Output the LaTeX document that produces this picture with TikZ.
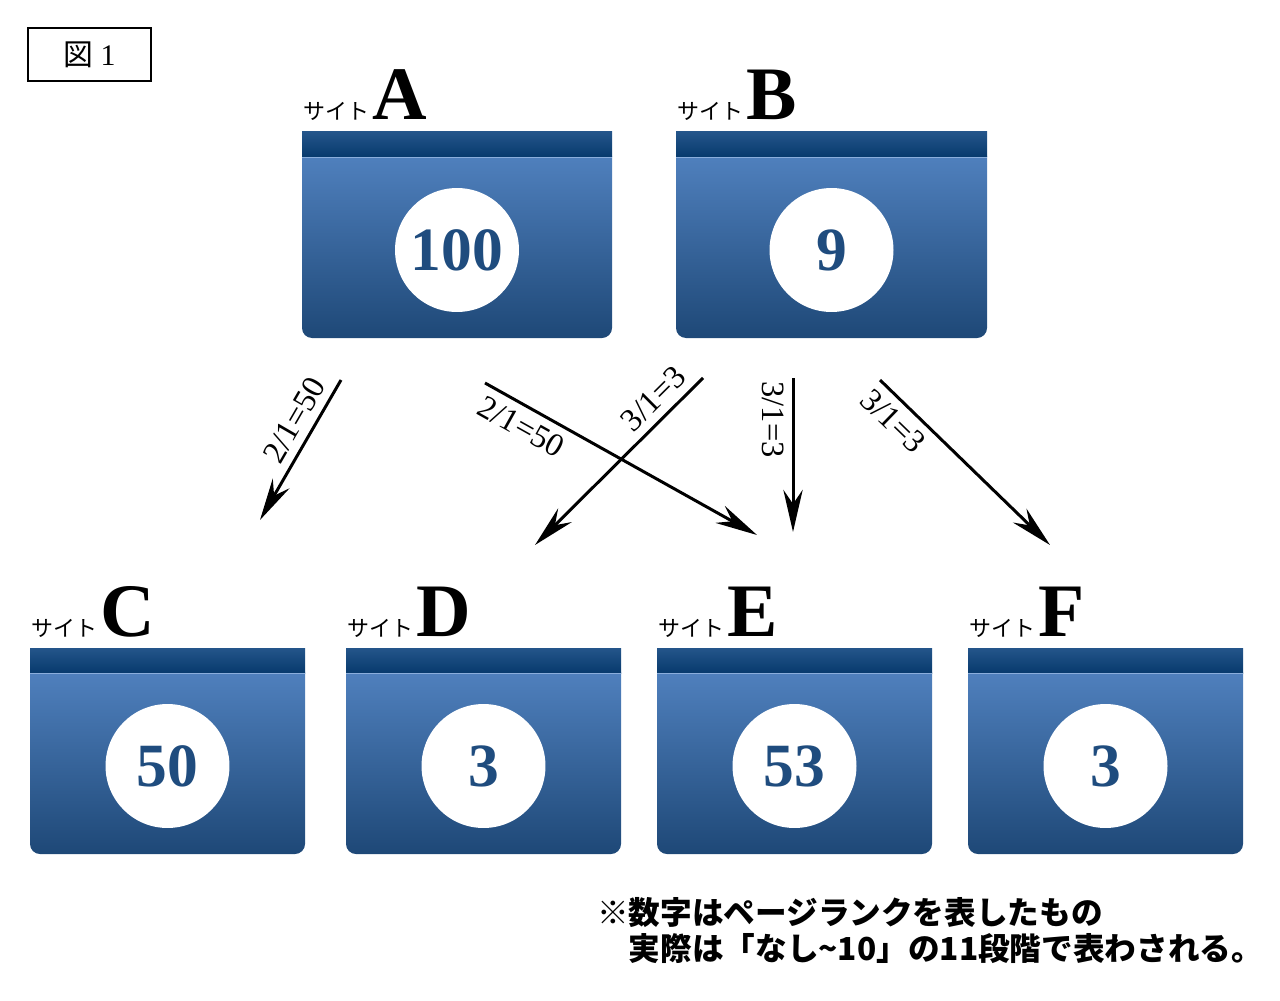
\documentclass[tikz,border=0pt]{standalone}
\usepackage{fontspec}
\setmainfont{Liberation Serif}
\newfontfamily\jp{Noto Sans CJK JP}
\usetikzlibrary{arrows.meta}
\definecolor{headtop}{HTML}{24558A}
\definecolor{headbot}{HTML}{073A6D}
\definecolor{bodytop}{HTML}{5283C1}
\definecolor{bodybot}{HTML}{1E4877}
\definecolor{numblue}{HTML}{1F4C7E}
\definecolor{seam}{HTML}{8AAEDC}
\tikzset{
  pxgrid/.style={x=0.02cm,y=-0.02cm},
  valcircle/.style={circle,fill=white,minimum size=2.48cm,inner sep=0pt,text=numblue,font=\fontsize{35}{37}\selectfont\bfseries},
  sitelabel/.style={anchor=base west,inner sep=0pt},
  link/.style={line width=1.7pt,-{Stealth[length=24pt,width=11pt,inset=8pt]}},
  ratio/.style={sloped,inner sep=4.5pt,font=\fontsize{18.5}{20}\selectfont}
}
\begin{document}
\begin{tikzpicture}[pxgrid]
\useasboundingbox (0,0) rectangle (1280,1000);
% figure tag
\node[draw,line width=0.8pt,minimum width=2.46cm,minimum height=1.06cm,font=\fontsize{17}{19}\selectfont] (fig) at (89.5,54.5) {{\jp 図} 1};
% site boxes
\foreach \n/\xl/\yt/\w/\v in {A/302/132/310/100,B/676/132/311/9,C/30/648/275/50,D/346/648/275/3,E/657/648/275/53,F/968/648/275/3}{
  \shade[top color=bodytop,bottom color=bodybot,rounded corners=0.2cm] (\xl,\yt+14) rectangle (\xl+\w,\yt+206);
  \shade[top color=headtop,bottom color=headbot] (\xl,\yt) rectangle (\xl+\w,\yt+25);
  \draw[seam,line width=0.6pt] (\xl,\yt+25.5) -- (\xl+\w,\yt+25.5);
  \node[valcircle] (\n) at (\xl+\w/2,\yt+118) {\v};
  \node[sitelabel] (\n lab) at (\xl+1,\yt-12) {{\jp\fontsize{12.5}{14}\selectfont サイト}\hspace{2pt}{\fontsize{43}{46}\selectfont\bfseries\n}};
}
% link ends
\coordinate (a2c s) at (341,380); \coordinate (a2c e) at (260,520);
\coordinate (a2e s) at (485,383); \coordinate (a2e e) at (757,535);
\coordinate (b2d s) at (703,378); \coordinate (b2d e) at (535,545);
\coordinate (b2e s) at (793,378); \coordinate (b2e e) at (793,532);
\coordinate (b2f s) at (880,380); \coordinate (b2f e) at (1050,545);
% links
\draw[link] (a2c s) -- node[ratio,above,pos=0.36] {2/1=50} (a2c e);
\draw[link] (a2e s) -- node[ratio,below,pos=0.17] {2/1=50} (a2e e);
\draw[link] (b2d s) -- node[ratio,above,pos=0.21] {3/1=3} (b2d e);
\draw[link] (b2e s) -- node[ratio,below,pos=0.27] {3/1=3} (b2e e);
\draw[link] (b2f s) -- node[ratio,below,pos=0.16] {3/1=3} (b2f e);
% note
\node[anchor=north west,align=left,inner sep=0pt,font=\jp\fontsize{18}{20.5}\selectfont\bfseries] (note) at (597,897) {※数字はページランクを表したもの\\　実際は「なし\textasciitilde10」の11段階で表わされる。};
\end{tikzpicture}
\end{document}
